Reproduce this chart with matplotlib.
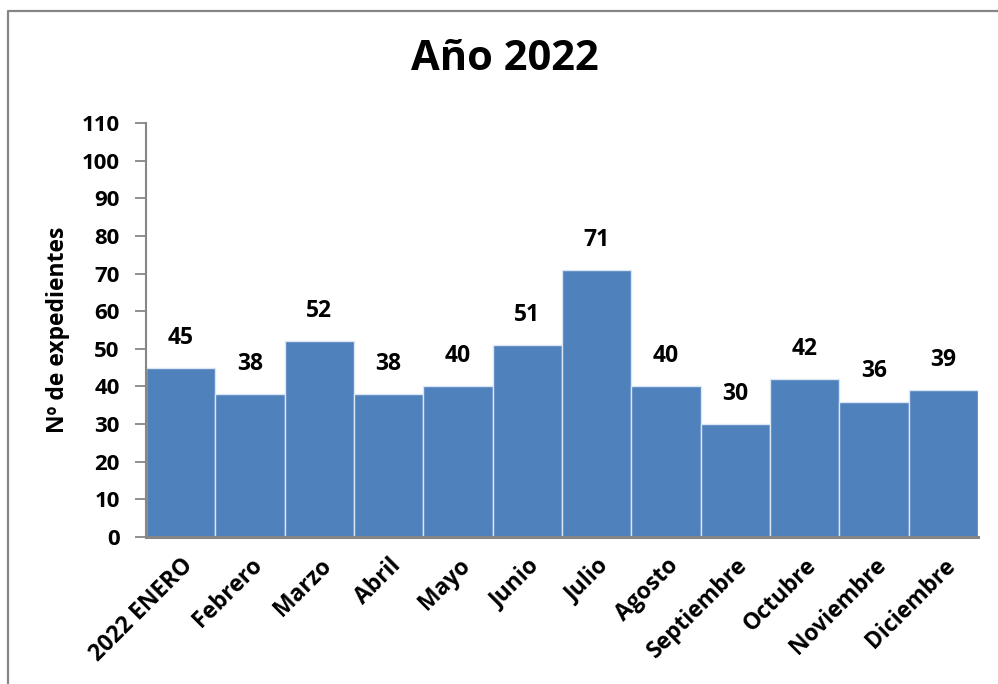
import matplotlib.pyplot as plt
from matplotlib.lines import Line2D

months = ["2022 ENERO", "Febrero", "Marzo", "Abril", "Mayo", "Junio", "Julio",
          "Agosto", "Septiembre", "Octubre", "Noviembre", "Diciembre"]
expedientes = [45, 38, 52, 38, 40, 51, 71, 40, 30, 42, 36, 39]
y_ticks = list(range(0, 111, 10))

plt.rcParams['font.family'] = ['Open Sans', 'DejaVu Sans']
plt.rcParams['font.weight'] = 'bold'

fig = plt.figure(figsize=(9.98, 6.84), dpi=100)
ax = fig.add_axes([146 / 998, 1 - 537 / 684, (978 - 146) / 998, (537 - 123) / 684])

x = list(range(len(months)))
bars = ax.bar(x, expedientes, width=1.0, color="#4F81BD", edgecolor="#dce6f2", linewidth=1.0)

for xi, v in zip(x, expedientes):
    ax.annotate(str(v), (xi, v), xytext=(0, 13), textcoords="offset points",
                ha="center", va="bottom", fontsize=16.5, fontweight="bold")

ax.set_xlim(-0.5, len(months) - 0.5)
ax.set_ylim(0, 110)
ax.set_yticks(y_ticks)
ax.set_yticklabels([str(t) for t in y_ticks], fontsize=16, fontweight="bold")
ax.set_xticks(x)
ax.set_xticklabels(months, rotation=45, ha="right", rotation_mode="anchor",
                   fontsize=16.5, fontweight="bold")
ax.tick_params(axis="x", length=0, pad=12)
ax.tick_params(axis="y", length=8, width=1.3, color="#868686", pad=11)

for side in ["top", "right"]:
    ax.spines[side].set_visible(False)
ax.spines["left"].set_color("#868686")
ax.spines["left"].set_linewidth(1.5)
ax.spines["bottom"].set_color("#868686")
ax.spines["bottom"].set_linewidth(2.2)

ax.set_ylabel("Nº de expedientes", fontsize=16.5, fontweight="bold", labelpad=8)

fig.text(505 / 998, 1 - 60 / 684, "Año 2022", ha="center", va="center",
         fontsize=30, fontweight="bold")

# outer chart border (runs off the right and bottom edges)
bx = 7.5 / 998
by = 1 - 10.5 / 684
fig.add_artist(Line2D([bx, bx, 1.0], [0.0, by, by], transform=fig.transFigure,
                      color="#868686", linewidth=1.6))

fig.savefig("out.png", dpi=100)
